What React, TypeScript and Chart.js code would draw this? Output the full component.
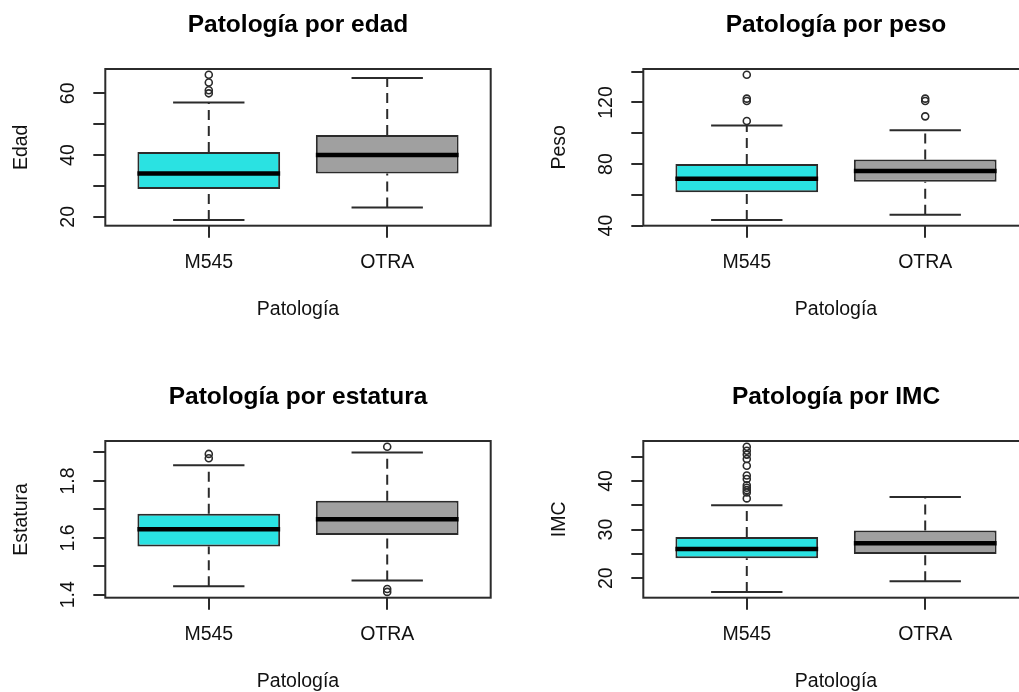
import React, { useEffect, useRef } from 'react';
import { Chart, registerables } from 'chart.js';

Chart.register(...registerables);

// ---------- data ----------
const categories = ['M545', 'OTRA'];
const xAxisTitle = 'Patología';

// five-number summaries per group: [lower whisker, Q1, median, Q3, upper whisker]
const edadM545 = [19, 29, 34, 41, 57];
const edadOtra = [23, 34, 40, 46.5, 65];
const edadOutM545 = [60, 61, 63.5, 66];
const edadOutOtra: number[] = [];
const edadTicks = [20, 30, 40, 50, 60];
const edadTickLabels = ['20', '', '40', '', '60'];

const pesoM545 = [43.7, 61.7, 70.5, 80, 105];
const pesoOtra = [47, 68.5, 75.5, 83, 102];
const pesoOutM545 = [108, 121, 122.5, 138];
const pesoOutOtra = [111, 121, 122.5];
const pesoTicks = [40, 60, 80, 100, 120, 140];
const pesoTickLabels = ['40', '', '80', '', '120', ''];

const estaturaM545 = [1.43, 1.57, 1.63, 1.685, 1.855];
const estaturaOtra = [1.45, 1.61, 1.665, 1.73, 1.9];
const estaturaOutM545 = [1.88, 1.895];
const estaturaOutOtra = [1.41, 1.42, 1.92];
const estaturaTicks = [1.4, 1.5, 1.6, 1.7, 1.8, 1.9];
const estaturaTickLabels = ['1.4', '', '1.6', '', '1.8', ''];

const imcM545 = [17.2, 24.1, 26.0, 28.5, 35.0];
const imcOtra = [19.4, 25.0, 27.2, 29.8, 36.7];
const imcOutM545 = [36.4, 37.6, 38.1, 38.6, 39.1, 40.4, 41.1, 43.1, 44.5, 45.4, 46.2, 47.0];
const imcOutOtra: number[] = [];
const imcTicks = [20, 25, 30, 35, 40, 45];
const imcTickLabels = ['20', '', '30', '', '40', ''];

// ---------- styling ----------
const FAMILY = 'Arial, "Liberation Sans", Helvetica, sans-serif';
const BASE_SIZE = 19.5;
const TITLE_SIZE = 24.5;
const TEXT = '#111111';
const INK = '#2b2b2b';
const LINE_W = 2;
const FILLS = ['#2AE2E2', '#A0A0A0'];

const CANVAS_W = 530;
const CANVAS_H = 372;
const PLOT_LEFT = 105.3;
const PLOT_RIGHT = 490.7;
const PLOT_TOP = 69;
const PLOT_BOTTOM = 225.7;
const TICK_LEN = 12;
const Y_LABEL_CENTER = 68.2;

const BOX_HALF = 0.4;
const CAP_HALF = 0.2;

const framePlugin = {
  id: 'plotFrame',
  afterDraw(chart: any) {
    const { ctx, chartArea } = chart;
    const { left, top, right, bottom } = chartArea;
    ctx.save();
    ctx.strokeStyle = INK;
    ctx.lineWidth = LINE_W;
    ctx.strokeRect(left, top, right - left, bottom - top);
    ctx.restore();
  },
};

function widestLabel(labels: string[]): number {
  const c = document.createElement('canvas').getContext('2d');
  if (!c) return 0;
  c.font = `normal ${BASE_SIZE}px ${FAMILY}`;
  return Math.max(...labels.map((l) => c.measureText(l).width));
}

type PanelProps = {
  left: number;
  top: number;
  title: string;
  yTitle: string;
  stats: number[][];
  outliers: number[][];
  ticks: number[];
  tickLabels: string[];
};

function BoxPanel({ left, top, title, yTitle, stats, outliers, ticks, tickLabels }: PanelProps) {
  const ref = useRef<HTMLCanvasElement>(null);

  useEffect(() => {
    if (!ref.current) return;

    // value range extended by 4% on each side
    const all = stats.flat().concat(outliers.flat());
    const lo = Math.min(...all);
    const hi = Math.max(...all);
    const span = hi - lo;
    const yMin = lo - 0.04 * span;
    const yMax = hi + 0.04 * span;
    const n = categories.length;
    const xMin = 0.5 - 0.04 * n;
    const xMax = n + 0.5 + 0.04 * n;

    const boxes = stats.map((s, i) => ({ x: i + 1, y: [s[1], s[3]] }));
    const whiskers: any[] = [];
    const caps: any[] = [];
    const medians: any[] = [];
    const outs: any[] = [];
    stats.forEach((s, i) => {
      const g = i + 1;
      whiskers.push({ x: g, y: s[3] }, { x: g, y: s[4] }, { x: g, y: null });
      whiskers.push({ x: g, y: s[0] }, { x: g, y: s[1] }, { x: g, y: null });
      caps.push({ x: g - CAP_HALF, y: s[4] }, { x: g + CAP_HALF, y: s[4] }, { x: g, y: null });
      caps.push({ x: g - CAP_HALF, y: s[0] }, { x: g + CAP_HALF, y: s[0] }, { x: g, y: null });
      medians.push({ x: g - BOX_HALF, y: s[2] }, { x: g + BOX_HALF, y: s[2] }, { x: g, y: null });
      outliers[i].forEach((v) => outs.push({ x: g, y: v }));
    });

    const font = { family: FAMILY, size: BASE_SIZE };
    const yPad = PLOT_LEFT - TICK_LEN - Y_LABEL_CENTER - widestLabel(tickLabels) / 2;

    const chart = new Chart(ref.current, {
      type: 'bar',
      data: {
        datasets: [
          {
            type: 'scatter',
            data: outs,
            order: 0,
            pointRadius: 3.5,
            pointStyle: 'circle',
            pointBackgroundColor: 'rgba(0,0,0,0)',
            pointBorderColor: INK,
            pointBorderWidth: 1.6,
          } as any,
          {
            type: 'line',
            data: medians,
            order: 1,
            borderColor: '#000000',
            borderWidth: 4.5,
            borderCapStyle: 'butt',
            pointRadius: 0,
            fill: false,
            spanGaps: false,
          } as any,
          {
            type: 'bar',
            data: boxes,
            order: 2,
            backgroundColor: FILLS,
            borderColor: INK,
            borderWidth: LINE_W,
            borderSkipped: false,
            barPercentage: 1,
            categoryPercentage: 2 * BOX_HALF,
          } as any,
          {
            type: 'line',
            data: whiskers,
            order: 3,
            borderColor: INK,
            borderWidth: LINE_W,
            borderDash: [10, 6],
            borderCapStyle: 'butt',
            pointRadius: 0,
            fill: false,
            spanGaps: false,
          } as any,
          {
            type: 'line',
            data: caps,
            order: 3,
            borderColor: INK,
            borderWidth: LINE_W,
            borderCapStyle: 'butt',
            pointRadius: 0,
            fill: false,
            spanGaps: false,
          } as any,
        ],
      },
      options: {
        responsive: false,
        maintainAspectRatio: false,
        animation: false,
        devicePixelRatio: 1,
        events: [],
        layout: { padding: { left: 0, top: 0, right: CANVAS_W - PLOT_RIGHT, bottom: 0 } },
        plugins: { legend: { display: false }, tooltip: { enabled: false }, title: { display: false } },
        scales: {
          x: {
            type: 'linear',
            position: 'bottom',
            min: xMin,
            max: xMax,
            offset: false,
            bounds: 'data',
            afterBuildTicks: (s: any) => {
              s.ticks = categories.map((_c, i) => ({ value: i + 1 }));
            },
            afterFit: (s: any) => {
              s.height = CANVAS_H - PLOT_BOTTOM;
            },
            grid: {
              display: true,
              offset: false,
              drawOnChartArea: false,
              drawTicks: true,
              tickLength: TICK_LEN,
              color: INK,
              lineWidth: LINE_W,
            },
            border: { display: false },
            ticks: {
              autoSkip: false,
              minRotation: 0,
              maxRotation: 0,
              padding: 13.1,
              font,
              color: TEXT,
              callback: (_v: any, i: number) => categories[i],
            },
            title: {
              display: true,
              text: xAxisTitle,
              font,
              color: TEXT,
              padding: { top: 0, bottom: 51.1 },
            },
          },
          x2: {
            type: 'linear',
            position: 'top',
            display: true,
            grid: { display: false },
            border: { display: false },
            ticks: { display: false },
            afterFit: (s: any) => {
              s.height = PLOT_TOP;
            },
            title: {
              display: true,
              text: title,
              font: { family: FAMILY, size: TITLE_SIZE, weight: 'bold' },
              color: '#000000',
              padding: { top: 10.1, bottom: 0 },
            },
          },
          y: {
            type: 'linear',
            position: 'left',
            min: yMin,
            max: yMax,
            bounds: 'data',
            beginAtZero: false,
            afterBuildTicks: (s: any) => {
              s.ticks = ticks.map((v) => ({ value: v }));
            },
            afterFit: (s: any) => {
              s.width = PLOT_LEFT;
            },
            grid: {
              display: true,
              drawOnChartArea: false,
              drawTicks: true,
              tickLength: TICK_LEN,
              color: INK,
              lineWidth: LINE_W,
            },
            border: { display: false },
            ticks: {
              autoSkip: false,
              minRotation: 90,
              maxRotation: 90,
              crossAlign: 'center',
              padding: yPad,
              font,
              color: TEXT,
              callback: (_v: any, i: number) => tickLabels[i],
            },
            title: {
              display: true,
              text: yTitle,
              font,
              color: TEXT,
              padding: { top: 9.8, bottom: 0 },
            },
          },
        },
      } as any,
      plugins: [framePlugin],
    });

    return () => chart.destroy();
  }, []);

  return (
    <canvas
      ref={ref}
      width={CANVAS_W}
      height={CANVAS_H}
      style={{ position: 'absolute', left, top, width: CANVAS_W, height: CANVAS_H }}
    />
  );
}

export default function App() {
  return (
    <div
      style={{
        position: 'fixed',
        left: 0,
        top: 0,
        width: 1019,
        height: 692,
        overflow: 'hidden',
        background: '#ffffff',
      }}
    >
      <BoxPanel
        left={0}
        top={0}
        title="Patología por edad"
        yTitle="Edad"
        stats={[edadM545, edadOtra]}
        outliers={[edadOutM545, edadOutOtra]}
        ticks={edadTicks}
        tickLabels={edadTickLabels}
      />
      <BoxPanel
        left={538}
        top={0}
        title="Patología por peso"
        yTitle="Peso"
        stats={[pesoM545, pesoOtra]}
        outliers={[pesoOutM545, pesoOutOtra]}
        ticks={pesoTicks}
        tickLabels={pesoTickLabels}
      />
      <BoxPanel
        left={0}
        top={372}
        title="Patología por estatura"
        yTitle="Estatura"
        stats={[estaturaM545, estaturaOtra]}
        outliers={[estaturaOutM545, estaturaOutOtra]}
        ticks={estaturaTicks}
        tickLabels={estaturaTickLabels}
      />
      <BoxPanel
        left={538}
        top={372}
        title="Patología por IMC"
        yTitle="IMC"
        stats={[imcM545, imcOtra]}
        outliers={[imcOutM545, imcOutOtra]}
        ticks={imcTicks}
        tickLabels={imcTickLabels}
      />
    </div>
  );
}
